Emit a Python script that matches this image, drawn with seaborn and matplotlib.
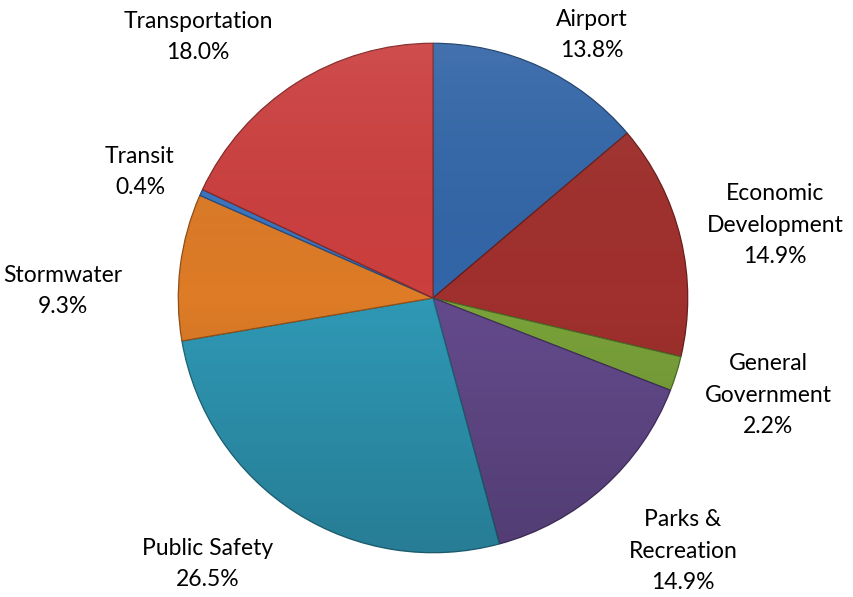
import numpy as np
import matplotlib.pyplot as plt
import matplotlib.colors as mcolors
import seaborn as sns

categories = ["Airport", "Economic\nDevelopment", "General\nGovernment", "Parks &\nRecreation",
              "Public Safety", "Stormwater", "Transit", "Transportation"]
shares = [13.8, 14.9, 2.2, 14.9, 26.5, 9.3, 0.4, 18.0]
colors = ["#3366A8", "#A0302D", "#7AA33A", "#644A8C", "#2F98B5", "#DD7B27", "#3A75C0", "#CC3F3F"]
# label centres in pixel coordinates of the 854x597 image
label_px = [(592, 35), (775, 225), (768, 395), (683, 551), (208, 564), (63, 291), (140, 172), (198, 37)]

sns.set_theme(style="white")
plt.rcParams['font.family'] = ['Lato', 'DejaVu Sans']

W, H = 854, 597
fig = plt.figure(figsize=(W / 100, H / 100), dpi=100)
cx, cy, R = 433, 298, 256
ax = fig.add_axes([(cx - R) / W, (H - cy - R) / H, 2 * R / W, 2 * R / H])

edge = [mcolors.to_hex(np.array(mcolors.to_rgb(c)) * 0.65) for c in colors]
wedges, _ = ax.pie(shares, colors=colors, startangle=90, counterclock=False, radius=1,
                   wedgeprops=dict(linewidth=0.9))
for w, e in zip(wedges, edge):
    w.set_edgecolor(e)

# vertical shading over the whole pie
grad = np.linspace(0, 1, 256).reshape(-1, 1)
cmap = mcolors.LinearSegmentedColormap.from_list(
    "shade", [(1, 1, 1, 0.08), (0, 0, 0, 0.0), (0, 0, 0, 0.18)])
im = ax.imshow(grad, extent=(-1, 1, -1, 1), origin="upper", cmap=cmap, aspect="auto", zorder=3)
circle = plt.Circle((0, 0), 1, transform=ax.transData)
im.set_clip_path(circle)

ax.set_xlim(-1.005, 1.005)
ax.set_ylim(-1.005, 1.005)
ax.axis("off")

for name, val, (x, y) in zip(categories, shares, label_px):
    fig.text(x / W, 1 - y / H, f"{name}\n{val:.1f}%", ha="center", va="center",
             multialignment="center", fontsize=16.5, color="#000000", linespacing=1.6)

fig.savefig("out.png", dpi=100, facecolor="white")
